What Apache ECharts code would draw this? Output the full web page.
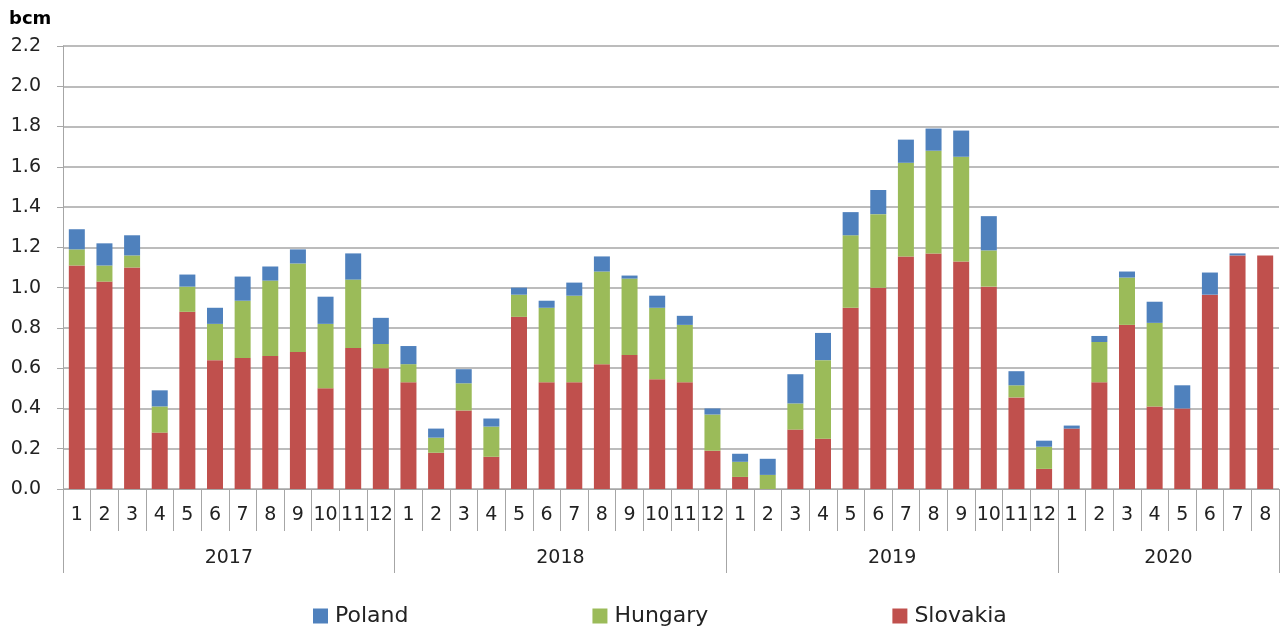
<!DOCTYPE html>
<html>
<head>
<meta charset="utf-8">
<script src="https://cdn.jsdelivr.net/npm/echarts@6/dist/echarts.min.js"></script>
<style>
html,body{margin:0;padding:0;background:#fff;}
#chart{width:1281px;height:630px;}
</style>
</head>
<body>
<div id="chart"></div>
<script>
var months = ['1','2','3','4','5','6','7','8','9','10','11','12',
              '1','2','3','4','5','6','7','8','9','10','11','12',
              '1','2','3','4','5','6','7','8','9','10','11','12',
              '1','2','3','4','5','6','7','8'];
var years = ['2017','2018','2019','2020'];
var monthsPerYear = [12, 12, 12, 8];
var yTicks = ['0.0','0.2','0.4','0.6','0.8','1.0','1.2','1.4','1.6','1.8','2.0','2.2'];

var slovakia = [1.11,1.03,1.10,0.28,0.88,0.64,0.65,0.66,0.68,0.50,0.70,0.60,
                0.53,0.18,0.39,0.16,0.855,0.53,0.53,0.62,0.665,0.545,0.53,0.19,
                0.06,0,0.295,0.25,0.90,1.00,1.155,1.17,1.13,1.005,0.455,0.10,
                0.30,0.53,0.815,0.41,0.40,0.965,1.16,1.16];
var hungary  = [0.08,0.08,0.06,0.13,0.125,0.18,0.285,0.375,0.44,0.32,0.34,0.12,
                0.09,0.075,0.135,0.15,0.11,0.37,0.43,0.46,0.38,0.355,0.285,0.18,
                0.075,0.07,0.13,0.39,0.36,0.365,0.465,0.51,0.52,0.18,0.06,0.11,
                0,0.20,0.235,0.415,0,0,0,0];
var poland   = [0.10,0.11,0.10,0.08,0.06,0.08,0.12,0.07,0.07,0.135,0.13,0.13,
                0.09,0.045,0.07,0.04,0.035,0.035,0.065,0.075,0.015,0.06,0.045,0.03,
                0.04,0.08,0.145,0.135,0.115,0.12,0.115,0.11,0.13,0.17,0.07,0.03,
                0.015,0.03,0.03,0.105,0.115,0.11,0.01,0];

// Half-month grid for the year axis (boundaryGap false, 2 slots per month)
var total = months.length;
var halfCats = [];
for (var i = 0; i <= total * 2; i++) halfCats.push('');
var yearTickIdx = [0];
var acc = 0;
for (var k = 0; k < years.length; k++) {
  halfCats[acc * 2 + monthsPerYear[k]] = years[k];
  acc += monthsPerYear[k];
  yearTickIdx.push(acc * 2);
}

var FONT = 'DejaVu Sans';
var GRID = '#A6A6A6';

var chart = echarts.init(document.getElementById('chart'), null, {renderer: 'canvas'});
chart.setOption({
  animation: false,
  textStyle: {fontFamily: FONT},
  title: {
    text: 'bcm', left: 4, top: 5,
    textStyle: {fontFamily: FONT, fontWeight: 'bold', fontSize: 18, color: '#000'}
  },
  legend: {
    data: ['Poland', 'Hungary', 'Slovakia'],
    left: 308, top: 600,
    icon: 'rect', itemWidth: 15, itemHeight: 15, itemGap: 184,
    textStyle: {fontFamily: FONT, fontSize: 22, color: '#222', padding: [0,0,0,2]}
  },
  grid: {left: 63, right: 2, top: 46, bottom: 141},
  xAxis: [{
    type: 'category',
    data: months,
    position: 'bottom',
    axisLine: {show: true, lineStyle: {color: GRID, width: 1}},
    axisTick: {show: true, interval: 0, length: 42, lineStyle: {color: GRID, width: 1}},
    axisLabel: {interval: 0, margin: 17, fontFamily: FONT, fontSize: 19, color: '#222'},
    splitLine: {show: false}
  }, {
    type: 'category',
    data: halfCats,
    position: 'bottom',
    boundaryGap: false,
    axisLine: {show: false},
    axisTick: {show: true, length: 84, lineStyle: {color: GRID, width: 1},
      interval: function (idx) { return yearTickIdx.indexOf(idx) >= 0; }},
    axisLabel: {margin: 60, fontFamily: FONT, fontSize: 19, color: '#222',
      interval: function (idx, val) { return val !== ''; }},
    splitLine: {show: false}
  }],
  yAxis: {
    type: 'value',
    min: 0, max: 2.2, interval: 0.2,
    axisLine: {show: true, lineStyle: {color: GRID, width: 1}},
    axisTick: {show: true, length: 6, lineStyle: {color: GRID}},
    axisLabel: {margin: 22, fontFamily: FONT, fontSize: 19, color: '#222',
      formatter: function (v) { return yTicks[Math.round(v / 0.2)]; }},
    splitLine: {show: true, lineStyle: {color: GRID, width: 1.5}}
  },
  series: [
    {name: 'Slovakia', type: 'bar', stack: 'gas', data: slovakia, barWidth: 16,
     itemStyle: {color: '#C0504D'}},
    {name: 'Hungary', type: 'bar', stack: 'gas', data: hungary, barWidth: 16,
     itemStyle: {color: '#9BBB59'}},
    {name: 'Poland', type: 'bar', stack: 'gas', data: poland, barWidth: 16,
     itemStyle: {color: '#4F81BD'}}
  ]
});
</script>
</body>
</html>
